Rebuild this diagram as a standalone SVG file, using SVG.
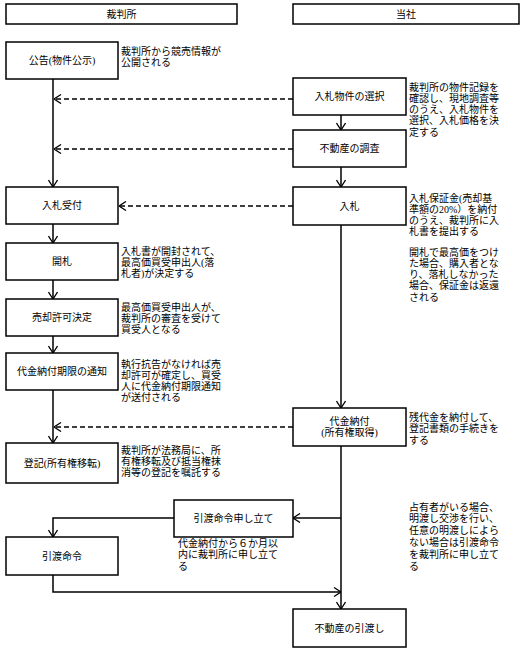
<svg xmlns="http://www.w3.org/2000/svg" width="525" height="655" viewBox="0 0 525 655">
<style>
text{font-family:"Liberation Serif","Noto Sans CJK JP",serif;font-size:10px;fill:#000}
.lbl{text-anchor:middle}
.box{fill:#fff;stroke:#000;stroke-width:1.5}
.ln{fill:none;stroke:#000;stroke-width:1.5}
.dash{fill:none;stroke:#000;stroke-width:1.3;stroke-dasharray:5,3}
</style>
<defs>
<marker id="arr" viewBox="0 0 10 10" refX="10" refY="5" markerWidth="10" markerHeight="10" markerUnits="userSpaceOnUse" orient="auto">
<path d="M3,0.5 L10,5 L3,9.5" fill="none" stroke="#000" stroke-width="1.3"/>
</marker>
</defs>
<rect width="525" height="655" fill="#fff"/>
<g id="connectors">
<path class="ln" d="M53,79 V187" marker-end="url(#arr)"/>
<path class="ln" d="M53,224 V243" marker-end="url(#arr)"/>
<path class="ln" d="M53,280 V299" marker-end="url(#arr)"/>
<path class="ln" d="M53,336 V353" marker-end="url(#arr)"/>
<path class="ln" d="M53,390 V443" marker-end="url(#arr)"/>
<path class="ln" d="M341,115 V130" marker-end="url(#arr)"/>
<path class="ln" d="M341,167 V187" marker-end="url(#arr)"/>
<path class="ln" d="M341,225 V408" marker-end="url(#arr)"/>
<path class="ln" d="M341,446 V609" marker-end="url(#arr)"/>
<path class="ln" d="M341,518 H293" marker-end="url(#arr)"/>
<path class="ln" d="M174,518 H53 V537" marker-end="url(#arr)"/>
<path class="ln" d="M53,575 V592 H341" marker-end="url(#arr)"/>
<path class="dash" d="M293,99 H54" marker-end="url(#arr)"/>
<path class="dash" d="M293,149 H54" marker-end="url(#arr)"/>
<path class="dash" d="M293,206 H119" marker-end="url(#arr)"/>
<path class="dash" d="M293,427 H54" marker-end="url(#arr)"/>
</g>
<g id="h-court"><rect class="box" x="6" y="4" width="231" height="20"/><text class="lbl" x="121.5" y="18">裁判所</text></g>
<g id="h-company"><rect class="box" x="293" y="4" width="226" height="20"/><text class="lbl" x="406" y="18">当社</text></g>
<g id="n-koukoku"><rect class="box" x="6" y="42" width="112" height="37"/><text class="lbl" x="62" y="64">公告(物件公示)</text>
<text x="121" y="55">裁判所から競売情報が<tspan x="121" dy="11">公開される</tspan></text></g>
<g id="n-sentaku"><rect class="box" x="293" y="78" width="113" height="37"/><text class="lbl" x="349.5" y="100">入札物件の選択</text>
<text x="409" y="90.5">裁判所の物件記録を<tspan x="409" dy="11.3">確認し、現地調査等</tspan><tspan x="409" dy="11.3">のうえ、入札物件を</tspan><tspan x="409" dy="11.3">選択、入札価格を決</tspan><tspan x="409" dy="11.3">定する</tspan></text></g>
<g id="n-chousa"><rect class="box" x="293" y="130" width="113" height="37"/><text class="lbl" x="349.5" y="152">不動産の調査</text></g>
<g id="n-uketsuke"><rect class="box" x="6" y="187" width="112" height="37"/><text class="lbl" x="62" y="209">入札受付</text></g>
<g id="n-nyusatsu"><rect class="box" x="293" y="187" width="113" height="38"/><text class="lbl" x="349.5" y="209.5">入札</text>
<text x="409" y="201.5">入札保証金(売却基<tspan x="409" dy="11.3">準額の20%）を納付</tspan><tspan x="409" dy="11.3">のうえ、裁判所に入</tspan><tspan x="409" dy="11.3">札書を提出する</tspan></text>
<text x="409" y="255.5">開札で最高価をつけ<tspan x="409" dy="11.3">た場合、購入者とな</tspan><tspan x="409" dy="11.3">り、落札しなかった</tspan><tspan x="409" dy="11.3">場合、保証金は返還</tspan><tspan x="409" dy="11.3">される</tspan></text></g>
<g id="n-kaisatsu"><rect class="box" x="6" y="243" width="112" height="37"/><text class="lbl" x="62" y="265">開札</text>
<text x="121" y="254.5">入札書が開封されて、<tspan x="121" dy="11.3">最高価買受申出人(落</tspan><tspan x="121" dy="11.3">札者)が決定する</tspan></text></g>
<g id="n-kyoka"><rect class="box" x="6" y="299" width="112" height="37"/><text class="lbl" x="62" y="321">売却許可決定</text>
<text x="121" y="310.5">最高価買受申出人が、<tspan x="121" dy="11.3">裁判所の審査を受けて</tspan><tspan x="121" dy="11.3">買受人となる</tspan></text></g>
<g id="n-kigen"><rect class="box" x="6" y="353" width="112" height="37"/><text class="lbl" x="62" y="375">代金納付期限の通知</text>
<text x="121" y="367.5">執行抗告がなければ売<tspan x="121" dy="11.3">却許可が確定し、買受</tspan><tspan x="121" dy="11.3">人に代金納付期限通知</tspan><tspan x="121" dy="11.3">が送付される</tspan></text></g>
<g id="n-nofu"><rect class="box" x="293" y="408" width="113" height="38"/><text class="lbl" x="349.5" y="424.5">代金納付<tspan x="349.5" dy="11">(所有権取得)</tspan></text>
<text x="409" y="420.5">残代金を納付して、<tspan x="409" dy="11.5">登記書類の手続きを</tspan><tspan x="409" dy="11.5">する</tspan></text></g>
<g id="n-touki"><rect class="box" x="6" y="443" width="112" height="40"/><text class="lbl" x="62" y="466.5">登記(所有権移転)</text>
<text x="121" y="453.5">裁判所が法務局に、所<tspan x="121" dy="11.3">有権移転及び抵当権抹</tspan><tspan x="121" dy="11.3">消等の登記を嘱託する</tspan></text></g>
<g id="n-moshitate"><rect class="box" x="174" y="500" width="119" height="37"/><text class="lbl" x="233.5" y="522">引渡命令申し立て</text>
<text x="178" y="546.5">代金納付から６か月以<tspan x="178" dy="11.5">内に裁判所に申し立て</tspan><tspan x="178" dy="11.5">る</tspan></text></g>
<g id="n-meirei"><rect class="box" x="6" y="537" width="112" height="38"/><text class="lbl" x="62" y="559.5">引渡命令</text></g>
<g id="n-hikiwatashi"><rect class="box" x="293" y="609" width="113" height="38"/><text class="lbl" x="349.5" y="631.5">不動産の引渡し</text>
<text x="409" y="510.5">占有者がいる場合、<tspan x="409" dy="11.8">明渡し交渉を行い、</tspan><tspan x="409" dy="11.8">任意の明渡しによら</tspan><tspan x="409" dy="11.8">ない場合は引渡命令</tspan><tspan x="409" dy="11.8">を裁判所に申し立て</tspan><tspan x="409" dy="11.8">る</tspan></text></g>
</svg>
